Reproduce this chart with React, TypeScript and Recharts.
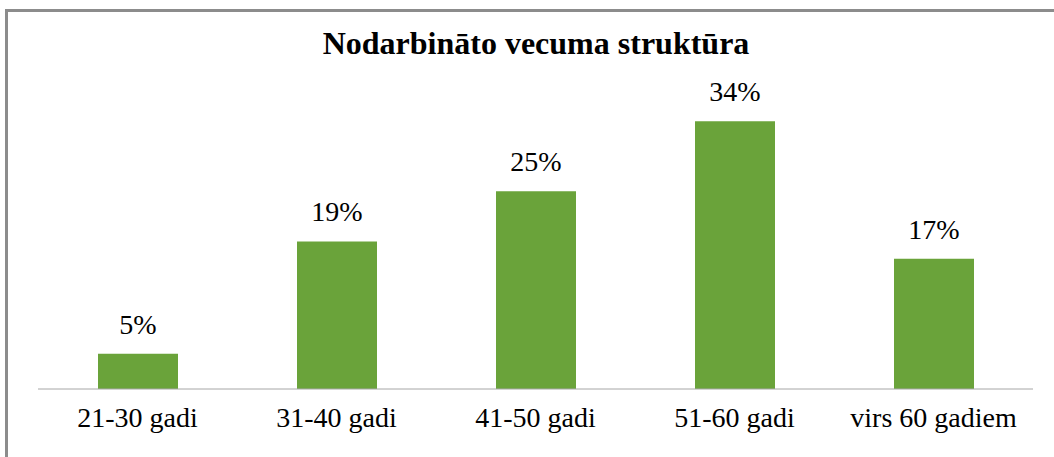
import { Bar, BarChart, LabelList, XAxis, YAxis } from 'recharts';

const categories = ['21-30 gadi', '31-40 gadi', '41-50 gadi', '51-60 gadi', 'virs 60 gadiem'];
const shares = [4.5, 18.8, 25.2, 34.1, 16.6];

const data = categories.map((name, i) => ({ name, share: shares[i] }));

const font = "'Liberation Serif', 'DejaVu Serif'";

export default function App() {
  return (
    <div style={{ position: 'absolute', left: 0, top: 0, width: 1054, height: 457, background: '#fff', overflow: 'hidden', fontFamily: font }}>
      <div
        style={{
          position: 'absolute',
          left: 5,
          top: 9,
          width: 1060,
          height: 460,
          borderTop: '3px solid #8c8c8c',
          borderLeft: '3px solid #8c8c8c',
        }}
      />
      <div
        style={{
          position: 'absolute',
          top: 25,
          left: 0,
          width: 1072,
          textAlign: 'center',
          fontWeight: 'bold',
          fontSize: 32,
          color: '#000',
        }}
      >
        Nodarbināto vecuma struktūra
      </div>
      <div style={{ position: 'absolute', left: 0, top: 0 }}>
        <BarChart width={1054} height={457} data={data} margin={{ top: 75, right: 21, bottom: 38, left: 38 }}>
          <XAxis
            dataKey="name"
            height={30}
            stroke="#a6a6a6"
            tickLine={false}
            tickSize={0}
            tickMargin={18}
            tick={{ fill: '#000', fontSize: 28, fontFamily: font }}
          />
          <YAxis hide domain={[0, 40]} />
          <Bar dataKey="share" fill="#6aa33a" barSize={80} isAnimationActive={false}>
            <LabelList
              dataKey="share"
              position="top"
              offset={20}
              formatter={(v: any) => `${Math.round(Number(v))}%`}
              style={{ fill: '#000', fontSize: 28, fontFamily: font }}
            />
          </Bar>
        </BarChart>
      </div>
    </div>
  );
}
